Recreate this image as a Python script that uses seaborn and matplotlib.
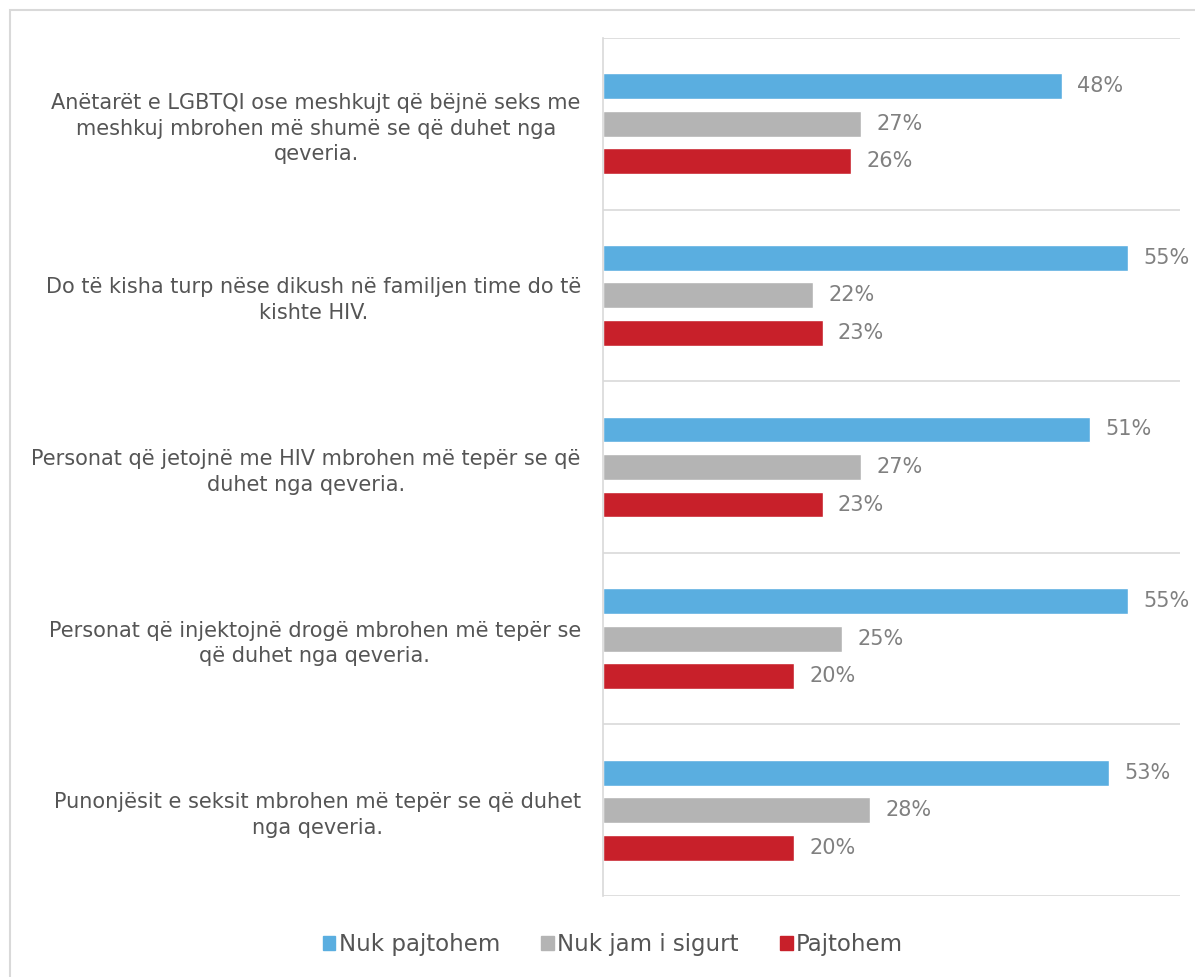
import matplotlib
matplotlib.use("Agg")
import matplotlib.pyplot as plt
import seaborn as sns
import pandas as pd
from matplotlib.patches import Rectangle

categories = [
    "Anëtarët e LGBTQI ose meshkujt që bëjnë seks me meshkuj mbrohen më shumë se që duhet nga qeveria.",
    "Do të kisha turp nëse dikush në familjen time do të kishte HIV.",
    "Personat që jetojnë me HIV mbrohen më tepër se që duhet nga qeveria.",
    "Personat që injektojnë drogë mbrohen më tepër se që duhet nga qeveria.",
    "Punonjësit e seksit mbrohen më tepër se që duhet nga qeveria.",
]
category_labels = [
    "Anëtarët e LGBTQI ose meshkujt që bëjnë seks me\nmeshkuj mbrohen më shumë se që duhet nga\nqeveria.",
    "Do të kisha turp nëse dikush në familjen time do të\nkishte HIV.",
    "Personat që jetojnë me HIV mbrohen më tepër se që\nduhet nga qeveria.",
    "Personat që injektojnë drogë mbrohen më tepër se\nqë duhet nga qeveria.",
    "Punonjësit e seksit mbrohen më tepër se që duhet\nnga qeveria.",
]
series = ["Nuk pajtohem", "Nuk jam i sigurt", "Pajtohem"]
nuk_pajtohem = [48, 55, 51, 55, 53]
nuk_jam_sigurt = [27, 22, 27, 25, 28]
pajtohem = [26, 23, 23, 20, 20]
colors = ["#5aaee0", "#b4b4b4", "#c8202a"]

rows = []
for i, c in enumerate(categories):
    for s, vals in zip(series, [nuk_pajtohem, nuk_jam_sigurt, pajtohem]):
        rows.append({"category": c, "series": s, "value": vals[i]})
df = pd.DataFrame(rows)

sns.set_theme(style="white")
plt.rcParams["font.family"] = ["DejaVu Sans"]

fig = plt.figure(figsize=(11.95, 9.77), dpi=100)
ax = fig.add_axes([603/1195, 1-896/977, (1180-603)/1195, (896-38)/977])

sns.barplot(data=df, y="category", x="value", hue="series", order=categories,
            hue_order=series, palette=colors, orient="h", width=0.656, gap=0.31,
            ax=ax, legend=True, saturation=1)

ax.set_xlim(0, 60.4)
ax.set_ylim(len(categories) - 0.5, -0.5)
ax.set_xlabel("")
ax.set_ylabel("")
ax.set_xticks([])
ax.set_yticks(range(len(categories)))
ax.set_yticklabels(category_labels, fontsize=15, color="#555555",
                   multialignment="center", linespacing=1.35)
ax.tick_params(axis="y", which="major", length=0, pad=16)
ax.set_yticks([i - 0.5 for i in range(len(categories) + 1)], minor=True)
ax.tick_params(axis="y", which="minor", length=5, color="#d9d9d9", width=1.2)
ax.grid(axis="y", which="minor", color="#d9d9d9", linewidth=1.2)
ax.grid(axis="y", which="major", visible=False)
for side in ["top", "right", "bottom"]:
    ax.spines[side].set_visible(False)
ax.spines["left"].set_color("#d9d9d9")
ax.spines["left"].set_linewidth(1.2)

for cont in ax.containers:
    ax.bar_label(cont, fmt="%d%%", padding=11, fontsize=15, color="#808080")

ax.get_legend().remove()
handles = [Rectangle((0, 0), 1, 1, color=c) for c in colors]
fig.legend(handles, series, loc="center", bbox_to_anchor=(0.513, 1-945/977), ncol=3,
           frameon=False, fontsize=16.5, handlelength=0.55, handleheight=0.55,
           handletextpad=0.15, columnspacing=1.8, labelcolor="#555555")

fig.patches.append(Rectangle((10/1195, -0.01), 1.02, 1-10/977 + 0.01, transform=fig.transFigure,
                             fill=False, edgecolor="#d9d9d9", linewidth=1.5))

fig.savefig("out.png", dpi=100, facecolor="white")
